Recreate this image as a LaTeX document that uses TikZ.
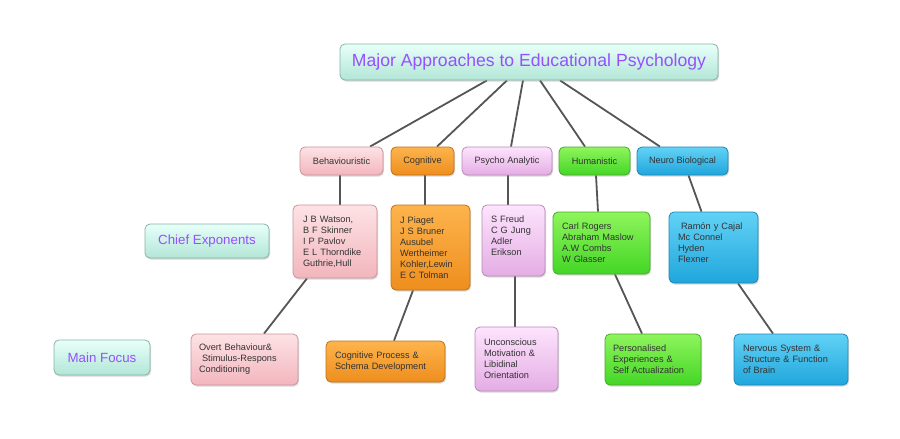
\documentclass[tikz,border=0pt]{standalone}
\usepackage{fontspec}
\setmainfont{Liberation Sans}
\usetikzlibrary{shadows,backgrounds}
\definecolor{pinkT}{HTML}{FDE2E5}\definecolor{pinkB}{HTML}{F2B6BD}\definecolor{pinkD}{HTML}{C9959B}
\definecolor{oraT}{HTML}{FDB44C}\definecolor{oraB}{HTML}{EE8E1E}\definecolor{oraD}{HTML}{C27218}
\definecolor{purT}{HTML}{FDE4FD}\definecolor{purB}{HTML}{E4ADE4}\definecolor{purD}{HTML}{B58CB5}
\definecolor{grnT}{HTML}{8EF55C}\definecolor{grnB}{HTML}{44D626}\definecolor{grnD}{HTML}{4AA82A}
\definecolor{bluT}{HTML}{62D2F6}\definecolor{bluB}{HTML}{20A6DC}\definecolor{bluD}{HTML}{1F86B5}
\definecolor{mntT}{HTML}{E8FFFA}\definecolor{mntB}{HTML}{B2E6D6}\definecolor{mntD}{HTML}{86B4A6}
\definecolor{txt}{HTML}{333333}
\definecolor{violet}{HTML}{9650FF}
\definecolor{link}{HTML}{555555}
\begin{document}
\begin{tikzpicture}[x=1pt,y=-1pt,
  box/.style={rounded corners=5pt, line width=0.8pt, inner ysep=0pt, inner xsep=9pt,
    drop shadow={opacity=0.3, shadow xshift=1pt, shadow yshift=-1.5pt},
    text=txt, font=\fontsize{9.2}{11}\selectfont},
  pinkbox/.style={box, draw=pinkD, top color=pinkT, bottom color=pinkB},
  orabox/.style={box, draw=oraD, top color=oraT, bottom color=oraB},
  purbox/.style={box, draw=purD, top color=purT, bottom color=purB},
  grnbox/.style={box, draw=grnD, top color=grnT, bottom color=grnB},
  blubox/.style={box, draw=bluD, top color=bluT, bottom color=bluB},
  mntbox/.style={box, draw=mntD, top color=mntT, bottom color=mntB, text=violet},
  txtbox/.style={align=left},
  conn/.style={draw=link, line width=1.8pt}]
\useasboundingbox (0,0) rectangle (900,439);

% title
\node[mntbox, minimum width=378pt, minimum height=36pt, font=\fontsize{17.6}{20}\selectfont] (title) at (529,62) {Major Approaches to Educational Psychology};

% categories
\node[pinkbox, minimum width=83pt, minimum height=28pt] (beh) at (341.5,161) {Behaviouristic};
\node[orabox, minimum width=63pt, minimum height=28pt] (cog) at (422.5,161) {Cognitive};
\node[purbox, minimum width=90pt, minimum height=28pt] (psy) at (507,161) {Psycho Analytic};
\node[grnbox, minimum width=71pt, minimum height=28pt] (hum) at (594.5,161) {Humanistic};
\node[blubox, minimum width=91pt, minimum height=28pt] (neu) at (682.5,161) {Neuro Biological};

% labels
\node[mntbox, minimum width=124pt, minimum height=34pt, font=\fontsize{13.3}{15}\selectfont] (lce) at (207,241) {Chief Exponents};
\node[mntbox, minimum width=96pt, minimum height=35pt, font=\fontsize{13.3}{15}\selectfont] (lmf) at (102,357.5) {Main Focus};

% chief exponents
\node[pinkbox, txtbox, inner xsep=10pt, text width=64pt, minimum height=73pt] (cebeh) at (335,241.5) {J B Watson,\\B F Skinner\\I P Pavlov\\E L Thorndike\\Guthrie,Hull};
\node[orabox, txtbox, text width=61pt, minimum height=85pt] (cecog) at (430.5,247.5) {J Piaget\\J S Bruner\\Ausubel\\Wertheimer\\Kohler,Lewin\\E C Tolman};
\node[purbox, txtbox, text width=45pt, minimum height=71pt] (cepsy) at (513.5,240.5) {S Freud\\C G Jung\\Adler\\Erikson\\[-2pt]\mbox{}};
\node[grnbox, txtbox, text width=79pt, minimum height=62pt] (cehum) at (601.5,243) {Carl Rogers\\Abraham Maslow\\A.W Combs\\W Glasser};
\node[blubox, txtbox, text width=71pt, minimum height=71pt] (ceneu) at (713.5,247.5) {\ Ram\'on y Cajal\\Mc Connel\\Hyden\\Flexner\\[-1pt]\mbox{}};

% main focus
\node[pinkbox, txtbox, inner xsep=8pt, text width=91pt, minimum height=51pt] (mfbeh) at (244.5,359.5) {Overt Behaviour\&\\\ Stimulus-Respons\\Conditioning};
\node[orabox, txtbox, text width=101pt, minimum height=41pt] (mfcog) at (385.5,361.5) {Cognitive Process \&\\Schema Development};
\node[purbox, txtbox, text width=65pt, minimum height=64pt] (mfpsy) at (516.5,359) {Unconscious\\Motivation \&\\Libidinal\\Orientation};
\node[grnbox, txtbox, inner xsep=8pt, text width=80pt, minimum height=51pt] (mfhum) at (653,359.5) {Personalised\\Experiences \&\\Self Actualization};
\node[blubox, txtbox, text width=96pt, minimum height=51pt] (mfneu) at (791,359.5) {Nervous System \&\\Structure \& Function\\of Brain};

\begin{scope}[on background layer]
\fill[white] (0,0) rectangle (900,439);
\draw[conn] ([xshift=-42pt]title.south) -- ([xshift=28.5pt]beh.north);
\draw[conn] ([xshift=-22pt]title.south) -- ([xshift=14.5pt]cog.north);
\draw[conn] ([xshift=-6pt]title.south) -- ([xshift=4pt]psy.north);
\draw[conn] ([xshift=11pt]title.south) -- ([xshift=-9.5pt]hum.north);
\draw[conn] ([xshift=31pt]title.south) -- ([xshift=-22.5pt]neu.north);

\draw[conn] ([xshift=-1.5pt]beh.south) -- ([xshift=5pt]cebeh.north);
\draw[conn] ([xshift=2.5pt]cog.south) -- ([xshift=-5.5pt]cecog.north);
\draw[conn] ([xshift=1pt]psy.south) -- ([xshift=-5.5pt]cepsy.north);
\draw[conn] ([xshift=1.5pt]hum.south) -- ([xshift=-3.5pt]cehum.north);
\draw[conn] ([xshift=6pt]neu.south) -- ([xshift=-12pt]ceneu.north);

\draw[conn] ([xshift=-28pt]cebeh.south) -- ([xshift=19.5pt]mfbeh.north);
\draw[conn] ([xshift=-17.5pt]cecog.south) -- ([xshift=8.5pt]mfcog.north);
\draw[conn] ([xshift=1.5pt]cepsy.south) -- ([xshift=-1.5pt]mfpsy.north);
\draw[conn] ([xshift=13.5pt]cehum.south) -- ([xshift=-11pt]mfhum.north);
\draw[conn] ([xshift=24.5pt]ceneu.south) -- ([xshift=-18pt]mfneu.north);
\end{scope}
\end{tikzpicture}
\end{document}
